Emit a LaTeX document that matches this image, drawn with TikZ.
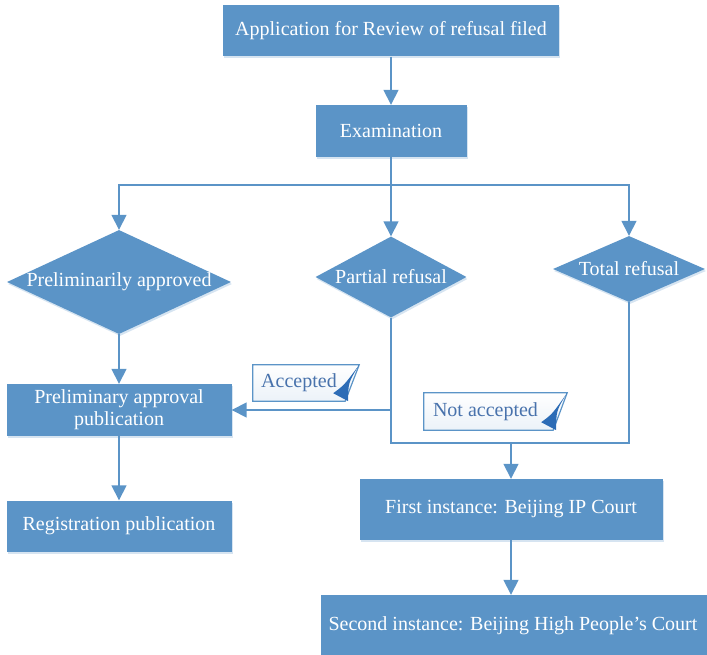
\documentclass[tikz,border=0pt]{standalone}
\usepackage{fontspec}
\setmainfont{Liberation Serif}
\usetikzlibrary{shapes.geometric,arrows.meta,shadows}
\definecolor{boxblue}{RGB}{91,148,199}
\definecolor{flagtext}{RGB}{72,114,172}
\definecolor{curlblue}{RGB}{44,108,182}
\begin{document}
\begin{tikzpicture}[x=1pt,y=-1pt,>={Triangle[width=15pt,length=15pt]},
  line/.style = {draw=boxblue, line width=1.6pt},
  box/.style = {rectangle, fill=boxblue, text=white, inner sep=0pt, align=center,
    font=\fontsize{20}{22}\selectfont,
    drop shadow={shadow xshift=1pt, shadow yshift=-2pt, opacity=.25, fill=boxblue}},
  decision/.style = {diamond, fill=boxblue, inner sep=0pt,
    drop shadow={shadow xshift=1pt, shadow yshift=-2pt, opacity=.25, fill=boxblue}},
  dtext/.style = {text=white, font=\fontsize{20}{22}\selectfont},
  flag/.style = {rectangle, inner sep=0pt, text=flagtext, font=\fontsize{20}{22}\selectfont},
  flagframe/.style = {draw=boxblue, line width=1.2pt, top color=white, bottom color=boxblue!12},
]
\useasboundingbox (0,0) rectangle (707,655);

\node (app) at (391,31) [box, minimum width=336pt, minimum height=51pt] {Application for Review of refusal filed};
\node (exam) at (391,131) [box, minimum width=151pt, minimum height=52pt] {Examination};
\node (pa) at (119,282) [decision, minimum width=224pt, minimum height=104pt, label={[dtext]center:Preliminarily approved}] {};
\node (pr) at (391,277) [decision, minimum width=151pt, minimum height=81pt, label={[dtext]center:Partial refusal}] {};
\node (tr) at (629,269) [decision, minimum width=152pt, minimum height=66pt, label={[dtext]center:Total refusal}] {};
\node (pap) at (119,410) [box, minimum width=225pt, minimum height=52pt] {Preliminary approval\\publication};
\node (reg) at (119,526) [box, minimum width=225pt, minimum height=51pt] {Registration publication};
\node (fi) at (511,509.5) [box, minimum width=303pt, minimum height=61pt] {First instance: Beijing IP Court};
\node (si) at (515,626) [box, minimum width=388pt, minimum height=62pt] {\hspace*{-4pt}Second instance: Beijing High People's Court};

\coordinate (fork) at (391,185);
\coordinate (join) at (511,443);

\draw[line,->] (app) -- (exam);
\draw[line] (exam) -- (fork);
\draw[line,->] (fork) -| (pa.north);
\draw[line,->] (fork) -- (pr.north);
\draw[line,->] (fork) -| (tr.north);
\draw[line,->] (pa) -- (pap);
\draw[line,->] (pap) -- (reg);
\draw[line,->] (pr.south) |- (pap.east);
\draw[line] (pr.south) |- (join);
\draw[line] (tr.south) |- (join);
\draw[line,->] (join) -- (fi);
\draw[line,->] (fi) -- (fi |- si.north);

% flags
\node (acc) at (299,383) [flag, minimum width=92pt, minimum height=36pt] {};
\path[flagframe] (acc.north west) -- ([xshift=14pt]acc.north east) -- (acc.south east) -- (acc.south west) -- cycle;
\fill[curlblue] ([xshift=14pt]acc.north east) .. controls ([xshift=3pt,yshift=-18pt]acc.north east) .. ([xshift=3pt]acc.south east) -- ([xshift=-12pt,yshift=8pt]acc.south east) .. controls ([xshift=-1pt,yshift=16pt]acc.south east) .. cycle;
\node at (acc) [flag] {Accepted};

\node (nacc) at (488.5,411.5) [flag, minimum width=129pt, minimum height=37pt] {};
\path[flagframe] (nacc.north west) -- ([xshift=14pt]nacc.north east) -- (nacc.south east) -- (nacc.south west) -- cycle;
\fill[curlblue] ([xshift=14pt]nacc.north east) .. controls ([xshift=3pt,yshift=-18pt]nacc.north east) .. ([xshift=3pt]nacc.south east) -- ([xshift=-12pt,yshift=8pt]nacc.south east) .. controls ([xshift=-1pt,yshift=16pt]nacc.south east) .. cycle;
\node at ([xshift=-3pt]nacc.center) [flag] {Not accepted};
\end{tikzpicture}
\end{document}
